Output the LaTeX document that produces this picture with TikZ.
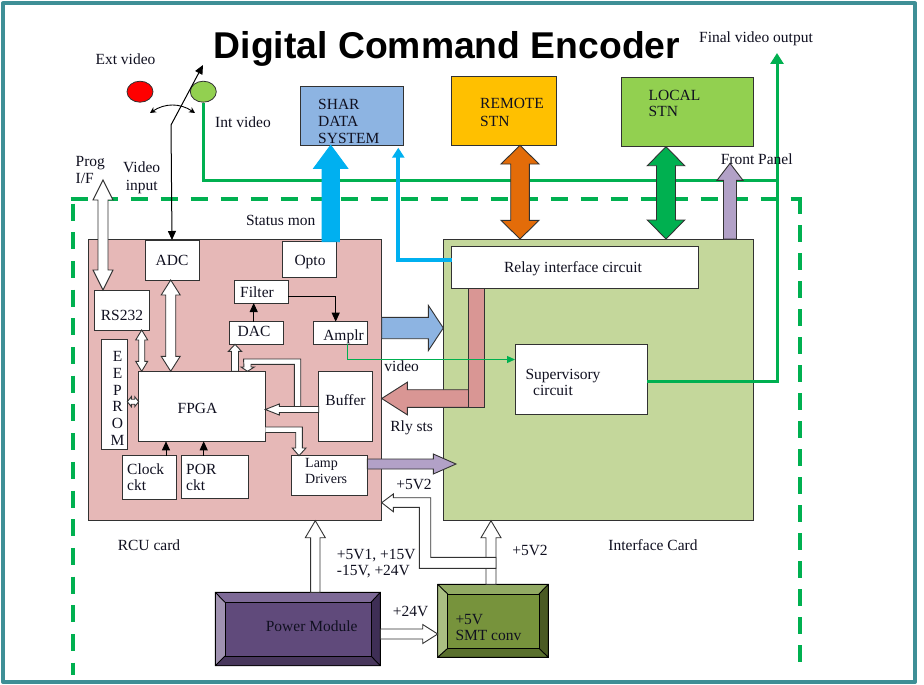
\documentclass[tikz,border=0pt]{standalone}
\usepackage{fontspec}
\setmainfont{Liberation Serif}
\newfontfamily\titlefont{Liberation Sans}
\usetikzlibrary{calc,arrows.meta,shapes.geometric}
\definecolor{frameteal}{RGB}{62,143,150}
\definecolor{dgreen}{RGB}{0,176,80}
\definecolor{lgreen}{RGB}{146,208,80}
\definecolor{rcupink}{RGB}{230,184,183}
\definecolor{ifgreen}{RGB}{196,215,155}
\definecolor{sblue}{RGB}{141,180,226}
\definecolor{cyanb}{RGB}{0,176,240}
\definecolor{rem}{RGB}{255,192,0}
\definecolor{orangeb}{RGB}{227,108,9}
\definecolor{rosy}{RGB}{217,150,148}
\definecolor{lilac}{RGB}{178,161,199}
\definecolor{edge}{RGB}{50,50,50}
\definecolor{ink}{RGB}{16,16,32}
\tikzset{
  boxn/.style={draw=edge,line width=.9pt,fill=white,inner sep=0pt,outer sep=0pt},
  lbl/.style={font=\fontsize{15.5}{18}\selectfont,text=ink,inner sep=0pt,text height=10pt,text depth=0pt},
  lbll/.style={lbl,anchor=west},
  blockline/.style={draw=edge,line width=.9pt,line join=miter},
  dashg/.style={draw=dgreen,line width=4pt,dash pattern=on 17pt off 13pt},
  gline/.style={draw=dgreen,line width=3pt,-{Triangle[length=11pt,width=13pt]}},
  thin arrow/.style={draw=black,line width=1pt,-{Triangle[length=9pt,width=8pt]}}
}
% box by its corners
\newcommand\bx[6][]{%
  \pgfmathsetmacro\bw{#5-#3}\pgfmathsetmacro\bh{#6-#4}%
  \pgfmathsetmacro\bcx{(#5+#3)/2}\pgfmathsetmacro\bcy{(#6+#4)/2}%
  \node[boxn,minimum width=\bw pt,minimum height=\bh pt,#1] (#2) at (\bcx,\bcy) {};}
% single block arrow: style, from, to, half shaft, half head, head length
\newcommand\blk[6][fill=white]{\draw[blockline,#1]
  ($(#2)!#4pt!90:(#3)$) -- ($(#3)!#6pt!(#2)!#4pt!-90:(#2)$) -- ($(#3)!#6pt!(#2)!#5pt!-90:(#2)$) -- (#3)
  -- ($(#3)!#6pt!(#2)!#5pt!90:(#2)$) -- ($(#3)!#6pt!(#2)!#4pt!90:(#2)$) -- ($(#2)!#4pt!-90:(#3)$) -- cycle;}
% double block arrow
\newcommand\dblk[6][fill=white]{\draw[blockline,#1]
  (#2) -- ($(#2)!#6pt!(#3)!#5pt!90:(#3)$) -- ($(#2)!#6pt!(#3)!#4pt!90:(#3)$)
  -- ($(#3)!#6pt!(#2)!#4pt!-90:(#2)$) -- ($(#3)!#6pt!(#2)!#5pt!-90:(#2)$) -- (#3)
  -- ($(#3)!#6pt!(#2)!#5pt!90:(#2)$) -- ($(#3)!#6pt!(#2)!#4pt!90:(#2)$)
  -- ($(#2)!#6pt!(#3)!#4pt!-90:(#3)$) -- ($(#2)!#6pt!(#3)!#5pt!-90:(#3)$) -- cycle;}
\begin{document}
\begin{tikzpicture}[x=1pt,y=-1pt]
\useasboundingbox (0,0) rectangle (924,685);
\fill[white] (0,0) rectangle (924,685);
\draw[frameteal,line width=4pt,line join=round] (3,3.5) rectangle (915,682);

\node[inner sep=0pt,font=\titlefont\bfseries\fontsize{37.3}{44}\selectfont,text=black,text height=26.7pt,text depth=0pt] (title) at (447,45.5) {Digital Command Encoder};

% big cards
\bx[fill=rcupink]{rcu}{88.3}{239}{381.7}{520.7}
\bx[fill=ifgreen]{iface}{443.3}{239}{753.3}{520.7}

% dashed enclosure
\coordinate (dtl) at (70.5,199);
\coordinate (dtr) at (800,199);
\coordinate (dls) at (73,203.5);
\coordinate (dle) at (73,675);
\coordinate (drs) at (800,197);
\coordinate (dre) at (800,664);
\draw[dashg] (dtl) -- (dtr);
\draw[dashg,dash pattern=on 17pt off 11.7pt] (dls) -- (dle);
\draw[dashg,dash pattern=on 17pt off 11pt] (drs) -- (dre);

% station boxes
\bx[fill=sblue]{shar}{300.7}{86.7}{403.3}{145.3}
\bx[fill=rem]{remote}{451.7}{76}{556}{145.3}
\bx[fill=lgreen]{local}{621.7}{77.7}{753.3}{146.7}

% selector
\node[draw=edge,line width=.8pt,fill=red,ellipse,minimum width=26pt,minimum height=21pt,inner sep=0pt] (redsw) at (140,91.7) {};
\node[draw=edge,line width=.8pt,fill=lgreen,ellipse,minimum width=26pt,minimum height=21pt,inner sep=0pt] (greensw) at (203.3,91.7) {};

% green video bus
\coordinate (fv) at (777,53);
\coordinate (bus) at (777,180);
\bx[]{sup}{515}{344.3}{647.3}{414.3}
\coordinate (supout) at (647.3,381.5);
\draw[gline] (supout) -| (fv);
\draw[dgreen,line width=3pt] (greensw.south) |- (bus);

% inner boxes of the RCU card
\bx{adc}{145}{240}{199}{280}
\bx{opto}{282.7}{241.7}{336.7}{277.5}
\bx{rs}{94.7}{290}{149.3}{330}
\bx{filter}{234.3}{280}{288.3}{303}
\bx{dac}{229}{321.7}{283.3}{344.3}
\bx{amplr}{313.3}{321.7}{367.3}{344.3}
\bx{eeprom}{101.7}{339.3}{127.3}{449.3}
\bx{fpga}{138.7}{371.3}{265.3}{441.3}
\bx{buffer}{318.7}{371.3}{372.7}{441.3}
\bx{clock}{122.7}{455.7}{176.7}{499}
\bx{por}{181}{455.7}{248.7}{498}
\bx{lamp}{291.7}{455.7}{367.3}{495}

% big arrows above the cards
\coordinate (a1) at (330.7,0 |- opto.north);
\coordinate (a2) at (330.7,0 |- shar.south);
\blk[fill=cyanb,draw=cyanb]{a1}{a2}{8.7}{17}{23}
\coordinate (b1) at (520,0 |- remote.south);
\coordinate (b2) at (520,0 |- iface.north);
\dblk[fill=orangeb]{b1}{b2}{9.3}{19}{18.7}
\coordinate (c1) at (666,0 |- local.south);
\coordinate (c2) at (666,0 |- iface.north);
\dblk[fill=dgreen]{c1}{c2}{9.5}{18.7}{19}
\coordinate (d1) at (730,0 |- iface.north);
\coordinate (d2) at (730,163.3);
\blk[fill=lilac]{d1}{d2}{6.5}{13}{17}

% relay interface
\bx{relay}{451.7}{246.7}{698}{288.3}
\coordinate (relayout) at (451.7,260);
\coordinate (sharin) at (398.3,147.7);
\draw[cyanb,line width=4pt,-{Triangle[length=10pt,width=12pt]}] (relayout) -| (sharin);

% Rly sts arrow
\coordinate (e1) at (468.7,398.5);
\coordinate (e2) at (381.7,398.5);
\blk[fill=rosy]{e1}{e2}{8.8}{16.3}{25.6}
\path[blockline,draw,fill=rosy] (468.7,288.3) rectangle (484.3,407.3);

% blue and purple arrows between the cards
\coordinate (f1) at (381.7,328);
\coordinate (f2) at (443.3,328);
\blk[fill=sblue]{f1}{f2}{10.7}{22.7}{15}
\coordinate (g1) at (367.3,464);
\coordinate (g2) at (456,464);
\blk[fill=lilac]{g1}{g2}{5}{10}{22.7}

% video feed
\draw[dgreen,line width=1.2pt,-{Triangle[length=8pt,width=7pt]}] (347.7,0 |- amplr.south) |- (515,359.5);

% switch
\coordinate (kink) at (171,125);
\coordinate (swtip) at (203,65);
\draw[thin arrow] (kink) -- (swtip);
\draw[thin arrow] (kink) -- (adc.north);
\coordinate (ca) at (150,113);
\coordinate (cb) at (195,113);
\draw[draw=black,line width=.9pt,{Stealth[length=6pt,width=6pt]}-{Stealth[length=6pt,width=6pt]}] (ca) .. controls (165,103) and (180,103) .. (cb);

% RCU connections
\coordinate (p1) at (103,180);
\coordinate (p2) at (103,0 |- rs.north);
\dblk{p1}{p2}{5}{10}{20}
\coordinate (h1) at (170.7,0 |- adc.south);
\coordinate (h2) at (170.7,0 |- fpga.north);
\dblk{h1}{h2}{5}{9.5}{15}
\coordinate (i1) at (141.7,0 |- rs.south);
\coordinate (i2) at (141.7,0 |- fpga.north);
\dblk{i1}{i2}{3}{6}{10}
\coordinate (j1) at (eeprom.east |- 0,401.7);
\coordinate (j2) at (fpga.west |- 0,401.7);
\dblk{j1}{j2}{2.5}{5}{4}
\coordinate (k1) at (235,0 |- fpga.north);
\coordinate (k2) at (235,0 |- dac.south);
\blk{k1}{k2}{3.5}{6.5}{7}
\coordinate (l1) at (253.7,0 |- dac.north);
\coordinate (l2) at (253.7,0 |- filter.south);
\draw[thin arrow] (l1) -- (l2);
\coordinate (m1) at (filter.east |- 0,296);
\coordinate (m2) at (335.7,0 |- amplr.north);
\draw[thin arrow] (m1) -| (m2);
\coordinate (n1) at (166,0 |- clock.north);
\coordinate (n2) at (166,0 |- fpga.south);
\draw[thin arrow] (n1) -- (n2);
\coordinate (o1) at (203.7,0 |- por.north);
\coordinate (o2) at (203.7,0 |- fpga.south);
\draw[thin arrow] (o1) -- (o2);

% buffer to FPGA and its branch
\draw[blockline,fill=white] (294.3,407) -- (294.3,364.3) -- (251,364.3) -- (251,367) -- (254.3,367) -- (247.5,371.3) -- (241,367) -- (244,367) -- (243.5,359) -- (300.7,359) -- (300.7,407);
\coordinate (q1) at (buffer.west |- 0,409.5);
\coordinate (q2) at (fpga.east |- 0,409.5);
\blk{q1}{q2}{3}{5.5}{14}
% FPGA to lamp drivers
\draw[blockline,fill=white] (265.3,427) -- (302.3,427) -- (302.3,448) -- (306,448) -- (299,0 |- lamp.north) -- (292.3,448) -- (295.7,448) -- (295.7,432.5) -- (265.3,432.5);

% bottom modules
\node[draw=black,line width=.9pt,fill=white,inner sep=0pt,outer sep=0pt,minimum width=165pt,minimum height=73.4pt] (pm) at (297.8,629) {};
\fill[fill={rgb,255:red,125;green,105;blue,150}] (215.3,592.3) -- (380.3,592.3) -- (371,602.3) -- (225,602.3) -- cycle;
\fill[fill={rgb,255:red,160;green,146;blue,176}] (215.3,592.3) -- (225,602.3) -- (225,656) -- (215.3,665.7) -- cycle;
\fill[fill={rgb,255:red,62;green,46;blue,85}] (380.3,592.3) -- (371,602.3) -- (371,656) -- (380.3,665.7) -- cycle;
\fill[fill={rgb,255:red,72;green,55;blue,92}] (215.3,665.7) -- (225,656) -- (371,656) -- (380.3,665.7) -- cycle;
\draw[black,line width=.9pt] (215.3,592.3) rectangle (380.3,665.7) (215.3,592.3) -- (225,602.3) (380.3,592.3) -- (371,602.3) (215.3,665.7) -- (225,656) (380.3,665.7) -- (371,656);
\node[draw=black,line width=.9pt,fill={rgb,255:red,96;green,74;blue,123},inner sep=0pt,minimum width=146pt,minimum height=53.7pt] (pmi) at (298,629.1) {};

\node[draw=black,line width=.9pt,fill=white,inner sep=0pt,outer sep=0pt,minimum width=110.6pt,minimum height=73pt] (smt) at (493,620.8) {};
\fill[fill={rgb,255:red,146;green,170;blue,100}] (437.7,584.3) -- (548.3,584.3) -- (539,594) -- (447.7,594) -- cycle;
\fill[fill={rgb,255:red,170;green,190;blue,130}] (437.7,584.3) -- (447.7,594) -- (447.7,648.3) -- (437.7,657.3) -- cycle;
\fill[fill={rgb,255:red,74;green,90;blue,35}] (548.3,584.3) -- (539,594) -- (539,648.3) -- (548.3,657.3) -- cycle;
\fill[fill={rgb,255:red,90;green,112;blue,45}] (437.7,657.3) -- (447.7,648.3) -- (539,648.3) -- (548.3,657.3) -- cycle;
\draw[black,line width=.9pt] (437.7,584.3) rectangle (548.3,657.3) (437.7,584.3) -- (447.7,594) (548.3,584.3) -- (539,594) (437.7,657.3) -- (447.7,648.3) (548.3,657.3) -- (539,648.3);
\node[draw=black,line width=.9pt,fill={rgb,255:red,119;green,147;blue,60},inner sep=0pt,minimum width=91.3pt,minimum height=54.3pt] (smti) at (493.3,621.2) {};

% power arrows
\coordinate (r1) at (315.3,0 |- pm.north);
\coordinate (r2) at (315.3,0 |- rcu.south);
\blk{r1}{r2}{4.7}{10}{17}
\coordinate (s1) at (pm.east |- 0,634);
\coordinate (s2) at (smt.west |- 0,634);
\blk{s1}{s2}{5}{9.5}{15}
\coordinate (t1) at (491,0 |- smt.north);
\coordinate (t2) at (491,0 |- iface.south);
\blk{t1}{t2}{5}{10}{17}
\draw[blockline,fill=white] (496,557.3) -- (430.7,557.3) -- (430.7,497.7) -- (393.3,497.7) -- (393.3,494) -- (rcu.east |- 0,502.7) -- (393.3,511.7) -- (393.3,507.3) -- (419.3,507.3) -- (419.3,568.3) -- (496,568.3) -- cycle;

% labels
\node[lbl] (tExt) at (125.5,60) {Ext video};
\node[lbl] (tInt) at (243,122) {Int video};
\node[lbl] (tFinal) at (756,37.5) {Final video output};
\node[lbll] (tProg1) at (75.5,161) {Prog};
\node[lbll] (tProg2) at (75.5,178) {I/F};
\node[lbl] (tVid1) at (141.7,167.7) {Video};
\node[lbl] (tVid2) at (141.7,185) {input};
\node[lbl] (tStat) at (280.7,220) {Status mon};
\node[lbl] (tFront) at (756.7,159) {Front Panel};
\node[lbll] (tShar1) at (318,104.5) {SHAR};
\node[lbll] (tShar2) at (318,121.5) {DATA};
\node[lbll] (tShar3) at (318,138) {SYSTEM};
\node[lbll] (tRem1) at (480,104) {REMOTE};
\node[lbll] (tRem2) at (480,121) {STN};
\node[lbll] (tLoc1) at (648.5,95) {LOCAL};
\node[lbll] (tLoc2) at (648.5,111.5) {STN};
\node[lbl] (tAdc) at (172,260) {ADC};
\node[lbl] (tOpto) at (310,260) {Opto};
\node[lbl] (tRs) at (122,315) {RS232};
\node[lbl] (tFil) at (257,292.7) {Filter};
\node[lbl] (tDac) at (254,331.5) {DAC};
\node[lbl] (tAmp) at (343.5,335) {Amplr};
\foreach \ch/\yy/\nn in {E/356.7/a,E/373.3/b,P/390/c,R/406.7/d,O/423.3/e,M/440/f}
  \node[lbl] (tEe\nn) at (117.5,\yy) {\ch};
\node[lbl] (tFpga) at (197.5,408) {FPGA};
\node[lbl] (tBuf) at (345.5,400) {Buffer};
\node[lbll] (tClk1) at (127,469.5) {Clock};
\node[lbll] (tClk2) at (127,485.5) {ckt};
\node[lbll] (tPor1) at (186,469.5) {POR};
\node[lbll] (tPor2) at (186,485.5) {ckt};
\node[lbll,font=\fontsize{14}{16}\selectfont] (tLamp1) at (305,462.5) {Lamp};
\node[lbll,font=\fontsize{14}{16}\selectfont] (tLamp2) at (305,478) {Drivers};
\node[lbl] (tRelay) at (573,267.5) {Relay interface circuit};
\node[lbl] (tSup1) at (563,374) {Supervisory};
\node[lbl] (tSup2) at (553,390) {circuit};
\node[lbl] (tVideo) at (401.7,366) {video};
\node[lbl] (tRly) at (411.7,426.7) {Rly sts};
\node[lbl] (tRcu) at (149,545) {RCU card};
\node[lbl] (tIf) at (653,545) {Interface Card};
\node[lbl] (tV1) at (414,484) {+5V2};
\node[lbl] (tV2) at (530,550) {+5V2};
\node[lbll] (tV3) at (336.7,554.3) {+5V1, +15V};
\node[lbll] (tV4) at (336.7,570) {-15V, +24V};
\node[lbl] (tV5) at (410.7,611) {+24V};
\node[lbl] (tPm) at (311.7,626) {Power Module};
\node[lbll] (tSmt1) at (455.3,619) {+5V};
\node[lbll] (tSmt2) at (455.3,635) {SMT conv};
\end{tikzpicture}
\end{document}
